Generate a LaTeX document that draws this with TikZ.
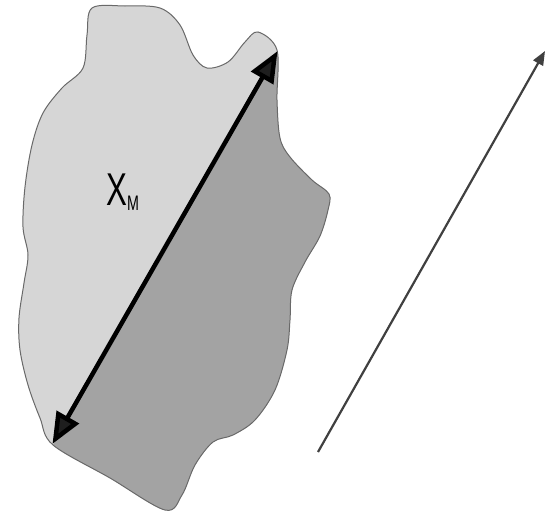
\documentclass[tikz,border=0pt]{standalone}
\usepackage{fontspec}
\setmainfont{Liberation Sans}
\usetikzlibrary{arrows.meta}
\definecolor{blobLight}{RGB}{214,214,214}
\definecolor{blobDark}{RGB}{163,163,163}
\definecolor{blobEdge}{RGB}{105,105,105}
\definecolor{arrowDark}{RGB}{30,30,30}
\tikzset{
  blobline/.style={draw=blobEdge, line width=1pt},
  sizearrow/.style={draw=black, line width=4.5pt, {Triangle[length=31pt,width=25pt,fill=arrowDark]}-{Triangle[length=31pt,width=25pt,fill=arrowDark]}, shorten <=-1pt, shorten >=-1pt},
  dirarrow/.style={draw=arrowDark!85, line width=2.2pt, -{Triangle[length=14pt,width=11pt]}},
  labeltext/.style={anchor=base west, inner sep=0pt, font=\fontsize{46}{46}\selectfont}
}
\begin{document}
\begin{tikzpicture}[x=1pt,y=1pt]
\useasboundingbox (0,0) rectangle (546,-514);
\def\blobpath{plot[smooth cycle, tension=0.55] coordinates {
 (92,-8) (125,-6) (160,-8) (180,-25) (193,-55) (207,-68) (228,-62) (245,-42) (258,-32) (277,-50)
 (277,-100) (280,-138) (290,-157) (312,-180) (329,-194) (328,-210) (320,-236) (305,-262)
 (292,-290) (290,-320) (287,-350) (275,-390) (255,-420) (233,-435) (213,-442) (195,-465)
 (182,-495) (165,-510) (110,-478) (53,-445) (40,-418) (28,-385) (20,-350) (19,-318)
 (24,-283) (28,-255) (23,-227) (25,-187) (32,-145) (43,-113) (62,-88) (83,-68) (87,-35)}}
% blob: light half
\fill[blobLight] \blobpath;
% blob: dark half (right of the size line)
\begin{scope}
  \clip \blobpath;
  \fill[blobDark] (8,-524) -- (322,27) -- (600,27) -- (600,-600) -- (8,-600) -- cycle;
\end{scope}
\draw[blobline] \blobpath;
% size arrow
\coordinate (lowtip) at (53,-443);
\coordinate (uptip) at (277,-52);
\draw[sizearrow] (lowtip) -- (uptip);
% label
\node[labeltext] (xm) at (106,-205) {\scalebox{0.68}[1]{X\raisebox{-5pt}{\fontsize{21}{21}\selectfont M}}};
% direction arrow
\coordinate (dstart) at (318,-452);
\coordinate (dend) at (545,-51);
\draw[dirarrow] (dstart) -- (dend);
\end{tikzpicture}
\end{document}
